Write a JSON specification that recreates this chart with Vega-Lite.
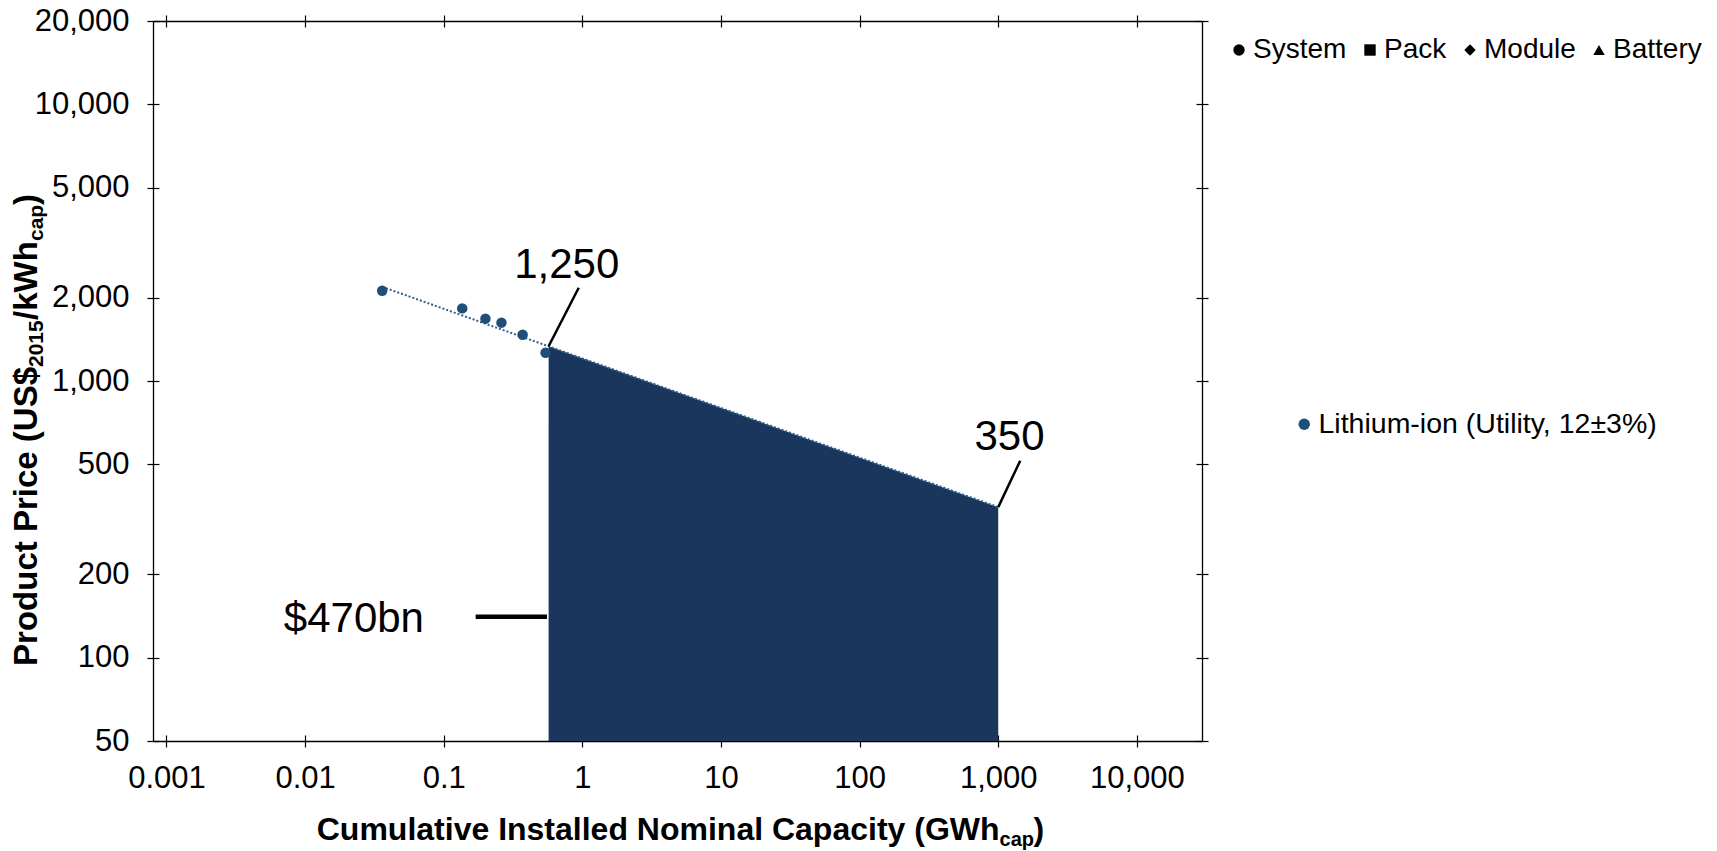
{
  "$schema": "https://vega.github.io/schema/vega-lite/v6.json",
  "width": 1049,
  "height": 720,
  "autosize": {"type": "none"},
  "padding": {"left": 153, "top": 21, "right": 515, "bottom": 110},
  "background": "white",
  "config": {
    "view": {"stroke": null},
    "font": "Liberation Sans",
    "axis": {"grid": false, "domainColor": "black", "domainWidth": 1.3, "tickColor": "black", "tickWidth": 1.2, "labelColor": "black", "labelFont": "Liberation Sans", "labelFontSize": 31, "labelFlush": false, "labelOverlap": false, "labelBound": false},
    "legend": {"labelFont": "Liberation Sans", "labelFontSize": 28.5, "labelColor": "black", "padding": 0, "symbolSize": 130, "labelOffset": 0, "columnPadding": 9, "labelLimit": 600}
  },
  "datasets": {
    "observed": [
      {"capacity": 0.036, "price": 2120, "level": "System", "technology": "Lithium-ion (Utility, 12±3%)"},
      {"capacity": 0.136, "price": 1830, "level": "System", "technology": "Lithium-ion (Utility, 12±3%)"},
      {"capacity": 0.2, "price": 1680, "level": "System", "technology": "Lithium-ion (Utility, 12±3%)"},
      {"capacity": 0.261, "price": 1625, "level": "System", "technology": "Lithium-ion (Utility, 12±3%)"},
      {"capacity": 0.371, "price": 1470, "level": "System", "technology": "Lithium-ion (Utility, 12±3%)"},
      {"capacity": 0.543, "price": 1265, "level": "System", "technology": "Lithium-ion (Utility, 12±3%)"}
    ],
    "trend": [{"capacity": 0.036, "price": 2190}, {"capacity": 1000, "price": 350}],
    "projection": [{"capacity": 0.571, "price": 1335}, {"capacity": 1000, "price": 350}],
    "callouts": [
      {"label": "1,250", "capacity": 0.772, "price": 2362},
      {"label": "350", "capacity": 1206, "price": 565},
      {"label": "$470bn", "capacity": 0.0225, "price": 124}
    ],
    "leaders": [
      {"capacity": 0.571, "price": 1335, "capacity2": 0.942, "price2": 2173},
      {"capacity": 1000, "price": 350, "capacity2": 1441, "price2": 515}
    ],
    "spend": [{"capacity": 0.17, "capacity2": 0.556, "price": 140.6}]
  },
  "data": {"values": [{}]},
  "layer": [
    {
      "data": {"name": "projection"},
      "mark": {"type": "area", "color": "#1B365D", "orient": "vertical", "opacity": 1},
      "encoding": {
        "x": {"field": "capacity", "type": "quantitative", "scale": {"type": "log", "domain": [0.0008, 29500], "nice": false}, "axis": {"orient": "bottom", "title": null, "values": [0.001, 0.01, 0.1, 1, 10, 100, 1000, 10000], "format": ",", "tickSize": 6, "labelPadding": 16}},
        "y": {"field": "price", "type": "quantitative", "scale": {"type": "log", "domain": [50, 20000], "nice": false}, "axis": {"orient": "left", "title": null, "values": [50, 100, 200, 500, 1000, 2000, 5000, 10000, 20000], "format": ",", "tickSize": 6, "labelPadding": 18}},
        "y2": {"datum": 50}
      }
    },
    {
      "data": {"name": "trend"},
      "mark": {"type": "line", "color": "#2E5F8F", "strokeWidth": 2, "strokeDash": [2, 2]},
      "encoding": {
        "x": {"field": "capacity", "type": "quantitative", "scale": {"type": "log", "domain": [0.0008, 29500], "nice": false}, "axis": {"orient": "bottom", "title": null, "values": [0.001, 0.01, 0.1, 1, 10, 100, 1000, 10000], "labels": false, "domain": false, "tickSize": -6}},
        "y": {"field": "price", "type": "quantitative", "scale": {"type": "log", "domain": [50, 20000], "nice": false}, "axis": {"orient": "left", "title": null, "values": [50, 100, 200, 500, 1000, 2000, 5000, 10000, 20000], "labels": false, "domain": false, "tickSize": -6}}
      }
    },
    {
      "data": {"name": "observed"},
      "mark": {"type": "point", "filled": true, "size": 110, "opacity": 1},
      "encoding": {
        "x": {"field": "capacity", "type": "quantitative", "scale": {"type": "log", "domain": [0.0008, 29500], "nice": false}, "axis": {"orient": "top", "title": null, "values": [0.001, 0.01, 0.1, 1, 10, 100, 1000, 10000], "labels": false, "tickSize": 6}},
        "y": {"field": "price", "type": "quantitative", "scale": {"type": "log", "domain": [50, 20000], "nice": false}, "axis": {"orient": "right", "title": null, "values": [50, 100, 200, 500, 1000, 2000, 5000, 10000, 20000], "labels": false, "tickSize": 6}},
        "color": {"field": "technology", "type": "nominal", "scale": {"range": ["#1F4E79"]}, "legend": {"title": null, "orient": "none", "legendX": 1137, "legendY": 389, "symbolType": "circle"}},
        "shape": {"field": "level", "type": "nominal", "scale": {"domain": ["System", "Pack", "Module", "Battery"], "range": ["circle", "square", "diamond", "triangle-up"]}, "legend": {"title": null, "orient": "none", "legendX": 1072, "legendY": 15, "direction": "horizontal", "columns": 4, "labelFontSize": 28, "symbolFillColor": "black", "symbolStrokeColor": "black", "symbolStrokeWidth": 0, "encode": {"symbols": {"update": {"fill": {"value": "black"}, "stroke": {"value": "black"}, "strokeWidth": {"value": 0}}}}}}
      }
    },
    {
      "data": {"name": "leaders"},
      "mark": {"type": "rule", "color": "black", "strokeWidth": 2.5},
      "encoding": {
        "x": {"field": "capacity", "type": "quantitative", "scale": {"type": "log", "domain": [0.0008, 29500], "nice": false}, "axis": {"orient": "top", "title": null, "values": [0.001, 0.01, 0.1, 1, 10, 100, 1000, 10000], "labels": false, "domain": false, "tickSize": -6}},
        "y": {"field": "price", "type": "quantitative", "scale": {"type": "log", "domain": [50, 20000], "nice": false}, "axis": {"orient": "right", "title": null, "values": [50, 100, 200, 500, 1000, 2000, 5000, 10000, 20000], "labels": false, "domain": false, "tickSize": -6}},
        "x2": {"field": "capacity2"},
        "y2": {"field": "price2"}
      }
    },
    {
      "data": {"name": "spend"},
      "mark": {"type": "rule", "color": "black", "strokeWidth": 4.5},
      "encoding": {
        "x": {"field": "capacity", "type": "quantitative", "scale": {"type": "log", "domain": [0.0008, 29500], "nice": false}, "axis": null},
        "x2": {"field": "capacity2"},
        "y": {"field": "price", "type": "quantitative", "scale": {"type": "log", "domain": [50, 20000], "nice": false}, "axis": null}
      }
    },
    {
      "data": {"name": "callouts"},
      "mark": {"type": "text", "fontSize": 42, "align": "center", "baseline": "alphabetic", "color": "black", "font": "Liberation Sans"},
      "encoding": {
        "x": {"field": "capacity", "type": "quantitative", "scale": {"type": "log", "domain": [0.0008, 29500], "nice": false}, "axis": null},
        "y": {"field": "price", "type": "quantitative", "scale": {"type": "log", "domain": [50, 20000], "nice": false}, "axis": null},
        "text": {"field": "label"}
      }
    },
    {
      "mark": {"type": "text", "text": "Cumulative Installed Nominal Capacity (GWh", "align": "right", "baseline": "alphabetic", "dy": 99, "fontSize": 32, "fontWeight": "bold", "color": "black", "font": "Liberation Sans"},
      "encoding": {
        "x": {"datum": 1022, "type": "quantitative", "scale": {"type": "log", "domain": [0.0008, 29500], "nice": false}, "axis": null},
        "y": {"datum": 50, "type": "quantitative", "scale": {"type": "log", "domain": [50, 20000], "nice": false}, "axis": null}
      }
    },
    {
      "mark": {"type": "text", "text": "cap", "align": "left", "baseline": "alphabetic", "dy": 105, "fontSize": 20, "fontWeight": "bold", "color": "black", "font": "Liberation Sans"},
      "encoding": {
        "x": {"datum": 1022, "type": "quantitative", "scale": {"type": "log", "domain": [0.0008, 29500], "nice": false}, "axis": null},
        "y": {"datum": 50, "type": "quantitative", "scale": {"type": "log", "domain": [50, 20000], "nice": false}, "axis": null}
      }
    },
    {
      "mark": {"type": "text", "text": ")", "align": "left", "baseline": "alphabetic", "dx": 34, "dy": 99, "fontSize": 32, "fontWeight": "bold", "color": "black", "font": "Liberation Sans"},
      "encoding": {
        "x": {"datum": 1022, "type": "quantitative", "scale": {"type": "log", "domain": [0.0008, 29500], "nice": false}, "axis": null},
        "y": {"datum": 50, "type": "quantitative", "scale": {"type": "log", "domain": [50, 20000], "nice": false}, "axis": null}
      }
    },
    {
      "mark": {"type": "text", "text": "Product Price (US$", "angle": 270, "align": "right", "baseline": "alphabetic", "dx": 14, "fontSize": 33, "fontWeight": "bold", "color": "black", "font": "Liberation Sans"},
      "encoding": {
        "x": {"datum": 0.000117, "type": "quantitative", "scale": {"type": "log", "domain": [0.0008, 29500], "nice": false}, "axis": null},
        "y": {"datum": 1000, "type": "quantitative", "scale": {"type": "log", "domain": [50, 20000], "nice": false}, "axis": null}
      }
    },
    {
      "mark": {"type": "text", "text": "2015", "angle": 270, "align": "left", "baseline": "alphabetic", "dx": 14, "dy": 6, "fontSize": 21, "fontWeight": "bold", "color": "black", "font": "Liberation Sans"},
      "encoding": {
        "x": {"datum": 0.000117, "type": "quantitative", "scale": {"type": "log", "domain": [0.0008, 29500], "nice": false}, "axis": null},
        "y": {"datum": 1000, "type": "quantitative", "scale": {"type": "log", "domain": [50, 20000], "nice": false}, "axis": null}
      }
    },
    {
      "mark": {"type": "text", "text": "/kWh", "angle": 270, "align": "left", "baseline": "alphabetic", "dx": 61, "fontSize": 33, "fontWeight": "bold", "color": "black", "font": "Liberation Sans"},
      "encoding": {
        "x": {"datum": 0.000117, "type": "quantitative", "scale": {"type": "log", "domain": [0.0008, 29500], "nice": false}, "axis": null},
        "y": {"datum": 1000, "type": "quantitative", "scale": {"type": "log", "domain": [50, 20000], "nice": false}, "axis": null}
      }
    },
    {
      "mark": {"type": "text", "text": "cap", "angle": 270, "align": "left", "baseline": "alphabetic", "dx": 140, "dy": 6, "fontSize": 21, "fontWeight": "bold", "color": "black", "font": "Liberation Sans"},
      "encoding": {
        "x": {"datum": 0.000117, "type": "quantitative", "scale": {"type": "log", "domain": [0.0008, 29500], "nice": false}, "axis": null},
        "y": {"datum": 1000, "type": "quantitative", "scale": {"type": "log", "domain": [50, 20000], "nice": false}, "axis": null}
      }
    },
    {
      "mark": {"type": "text", "text": ")", "angle": 270, "align": "left", "baseline": "alphabetic", "dx": 176, "fontSize": 33, "fontWeight": "bold", "color": "black", "font": "Liberation Sans"},
      "encoding": {
        "x": {"datum": 0.000117, "type": "quantitative", "scale": {"type": "log", "domain": [0.0008, 29500], "nice": false}, "axis": null},
        "y": {"datum": 1000, "type": "quantitative", "scale": {"type": "log", "domain": [50, 20000], "nice": false}, "axis": null}
      }
    }
  ],
  "resolve": {"axis": {"x": "independent", "y": "independent"}}
}
